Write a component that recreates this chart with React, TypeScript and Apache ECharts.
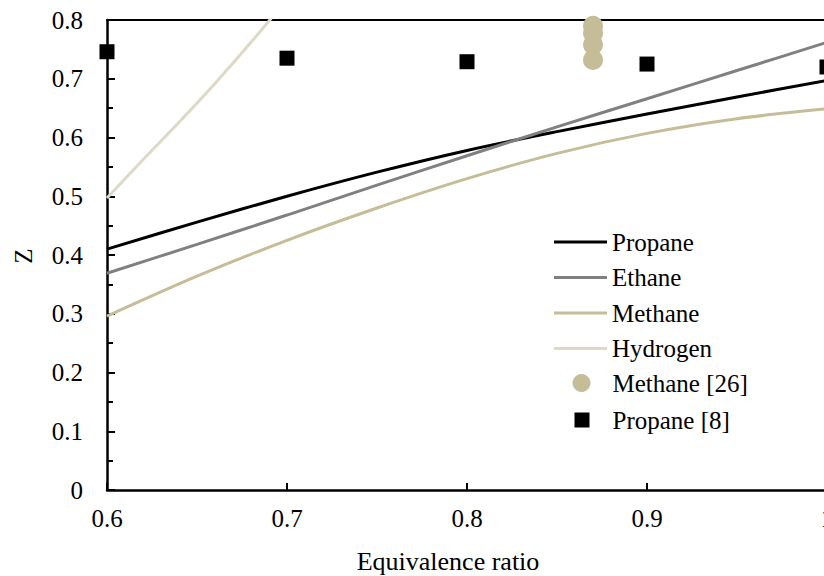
import React, { useEffect, useRef } from "react";
import * as echarts from "echarts";

const xTicks = [0.6, 0.7, 0.8, 0.9, 1.0];

const propaneX = [0.6, 0.65, 0.7, 0.75, 0.8, 0.85, 0.9, 0.95, 1.0];
const propaneY = [0.41, 0.456, 0.5, 0.541, 0.578, 0.61, 0.64, 0.669, 0.697];

const ethaneX = [0.6, 0.65, 0.7, 0.75, 0.8, 0.85, 0.9, 0.95, 1.0];
const ethaneY = [0.369, 0.418, 0.468, 0.519, 0.569, 0.618, 0.666, 0.714, 0.762];

const methaneX = [0.6, 0.65, 0.7, 0.75, 0.8, 0.85, 0.9, 0.95, 1.0];
const methaneY = [0.296, 0.364, 0.425, 0.48, 0.53, 0.573, 0.607, 0.632, 0.649];

const hydrogenX = [0.6, 0.62, 0.64, 0.66, 0.68, 0.7];
const hydrogenY = [0.497, 0.562, 0.626, 0.692, 0.762, 0.835];

const methane26X = [0.87, 0.87, 0.87, 0.87];
const methane26Y = [0.79, 0.778, 0.758, 0.732];

const propane8X = [0.6, 0.7, 0.8, 0.9, 1.0];
const propane8Y = [0.746, 0.735, 0.729, 0.725, 0.72];

const FONT = "Liberation Serif";
const FS = 25;

const zip = (xs: number[], ys: number[]) => xs.map((x, i) => [x, ys[i]]);

export default function App() {
  const ref = useRef<HTMLDivElement>(null);
  useEffect(() => {
    if (!ref.current) return;
    const chart = echarts.init(ref.current, undefined, { renderer: "svg" });
    const fmt = (v: number) => String(+v.toFixed(1));
    const lineSeries = (name: string, xs: number[], ys: number[], color: string) => ({
      name,
      type: "line",
      data: zip(xs, ys),
      smooth: 0.3,
      symbol: "none",
      showSymbol: false,
      clip: true,
      lineStyle: { color, width: 3 },
      itemStyle: { color },
      z: 2,
    });
    const legendText = (padLeft: number) => ({
      fontFamily: FONT,
      fontSize: FS,
      color: "#000",
      lineHeight: 26,
      padding: [0, 0, 0, padLeft],
    });
    chart.setOption({
      animation: false,
      backgroundColor: "#ffffff",
      textStyle: { fontFamily: FONT },
      grid: { left: 107, top: 20, width: 720, height: 470 },
      xAxis: [
        {
          type: "value",
          min: 0.6,
          max: 1.0,
          interval: 0.1,
          axisLine: { show: true, lineStyle: { color: "#000", width: 2.5 } },
          axisTick: { show: true, inside: true, length: 7, lineStyle: { color: "#000", width: 2 } },
          axisLabel: {
            color: "#000",
            fontFamily: FONT,
            fontSize: FS,
            margin: 16,
            formatter: fmt,
            customValues: xTicks,
          },
          splitLine: { show: false },
        },
        {
          type: "value",
          position: "top",
          min: 0.6,
          max: 1.0,
          axisLine: { show: true, lineStyle: { color: "#000", width: 2 } },
          axisTick: { show: false },
          axisLabel: { show: false },
          splitLine: { show: false },
        },
      ],
      yAxis: {
        type: "value",
        min: 0,
        max: 0.8,
        interval: 0.1,
        axisLine: { show: true, lineStyle: { color: "#000", width: 2.5 } },
        axisTick: { show: true, inside: true, length: 8, lineStyle: { color: "#000", width: 2 } },
        minorTick: { show: true, splitNumber: 2, length: 6, lineStyle: { color: "#000", width: 2 } },
        axisLabel: {
          color: "#000",
          fontFamily: FONT,
          fontSize: FS,
          margin: 24,
          formatter: fmt,
        },
        splitLine: { show: false },
      },
      legend: [
        {
          orient: "vertical",
          left: 554,
          top: 229,
          padding: 0,
          icon: "rect",
          itemWidth: 53,
          itemHeight: 3,
          itemGap: 9.5,
          textStyle: legendText(0),
          data: ["Propane", "Ethane", "Methane", "Hydrogen"],
        },
        {
          orient: "vertical",
          left: 572.5,
          top: 370,
          padding: 0,
          icon: "circle",
          itemWidth: 18,
          itemHeight: 18,
          textStyle: legendText(17),
          data: ["Methane [26]"],
        },
        {
          orient: "vertical",
          left: 574.5,
          top: 407,
          padding: 0,
          icon: "rect",
          itemWidth: 15,
          itemHeight: 15,
          textStyle: legendText(18),
          data: ["Propane [8]"],
        },
      ],
      graphic: [
        {
          type: "text",
          x: 23,
          y: 256,
          rotation: Math.PI / 2,
          style: {
            text: "Z",
            fontFamily: FONT,
            fontSize: FS,
            fill: "#000",
            textAlign: "center",
            textVerticalAlign: "middle",
          },
        },
        {
          type: "text",
          x: 448,
          y: 561,
          style: {
            text: "Equivalence ratio",
            fontFamily: FONT,
            fontSize: 26,
            fill: "#000",
            textAlign: "center",
            textVerticalAlign: "middle",
          },
        },
      ],
      series: [
        lineSeries("Propane", propaneX, propaneY, "#000000"),
        lineSeries("Ethane", ethaneX, ethaneY, "#808080"),
        lineSeries("Methane", methaneX, methaneY, "#C4BD97"),
        lineSeries("Hydrogen", hydrogenX, hydrogenY, "#DDD9C4"),
        {
          name: "Methane [26]",
          type: "scatter",
          data: zip(methane26X, methane26Y),
          symbol: "circle",
          symbolSize: 20,
          itemStyle: { color: "#C4BD97", opacity: 1 },
          clip: false,
          z: 3,
        },
        {
          name: "Propane [8]",
          type: "scatter",
          data: zip(propane8X, propane8Y),
          symbol: "rect",
          symbolSize: 15,
          itemStyle: { color: "#000000", opacity: 1 },
          clip: false,
          z: 3,
        },
      ],
    });
    return () => chart.dispose();
  }, []);
  return (
    <div
      style={{
        position: "fixed",
        left: 0,
        top: 0,
        width: 824,
        height: 576,
        overflow: "hidden",
        background: "#fff",
      }}
    >
      <div ref={ref} style={{ width: 900, height: 576 }} />
    </div>
  );
}
